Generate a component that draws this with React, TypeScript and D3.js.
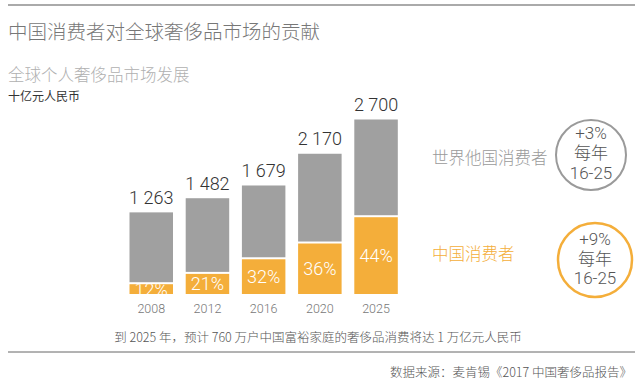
import React from "react";
import * as d3 from "d3";

const years = ["2008", "2012", "2016", "2020", "2025"];
const totals = [1263, 1482, 1679, 2170, 2700];
const totalLabels = ["1 263", "1 482", "1 679", "2 170", "2 700"];
const chinaShare = [12, 21, 32, 36, 44];
const circleOthers = ["+3%", "每年", "16-25"];
const circleChina = ["+9%", "每年", "16-25"];

const W = 640;
const H = 381;
const GRAY = "#a0a0a0";
const ORANGE = "#f4ae3a";
const CJK = "'Noto Sans CJK SC', 'Noto Sans', sans-serif";
const NUM = "Roboto, 'Liberation Sans', 'Noto Sans CJK SC', sans-serif";

export default function App() {
  const x = d3.scaleBand<string>().domain(years).range([129.5, 397.8]).paddingInner(0.226).paddingOuter(0);
  const y = d3.scaleLinear().domain([0, 2700]).range([294, 119.5]);
  const bw = x.bandwidth();

  return (
    <svg width={W} height={H} style={{ position: "absolute", left: 0, top: 0, background: "#fff" }}>
      <defs>
        {years.map((yr, i) => {
          const china = (totals[i] * chinaShare[i]) / 100;
          return (
            <clipPath id={`clip-${yr}`} key={yr}>
              <rect x={x(yr)} y={y(china)} width={bw} height={y(0) - y(china)} />
            </clipPath>
          );
        })}
      </defs>
      <line x1={8} x2={635} y1={5} y2={5} stroke="#aaa" strokeWidth={2} />
      <text x={8} y={39} fontFamily={CJK} fontSize={19.5} fill="#777" fontWeight={300}>
        中国消费者对全球奢侈品市场的贡献
      </text>
      <text x={8} y={81} fontFamily={CJK} fontSize={16.5} fill="#b0b0b0" fontWeight={300}>
        全球个人奢侈品市场发展
      </text>
      <text x={8} y={100.5} fontFamily={CJK} fontSize={12} fill="#333">
        十亿元人民币
      </text>

      {years.map((yr, i) => {
        const china = (totals[i] * chinaShare[i]) / 100;
        const x0 = x(yr) as number;
        const yTop = y(totals[i]);
        const yChina = y(china);
        const cx = x0 + bw / 2;
        return (
          <g key={yr}>
            <rect x={x0} y={yTop} width={bw} height={yChina - 2 - yTop} fill={GRAY} />
            <rect x={x0} y={yChina} width={bw} height={y(0) - yChina} fill={ORANGE} />
            <text
              x={cx}
              y={(yChina + y(0)) / 2 + 6.5}
              textAnchor="middle"
              fontFamily={NUM}
              fontWeight={300}
              fontSize={18}
              fill="#fff"
              clipPath={`url(#clip-${yr})`}
            >
              {chinaShare[i]}%
            </text>
            <text x={cx} y={yTop - 8.5} textAnchor="middle" fontFamily={NUM} fontWeight={300} fontSize={18} fill="#333">
              {totalLabels[i]}
            </text>
            <text x={cx} y={313} textAnchor="middle" fontFamily={NUM} fontWeight={300} fontSize={12.5} fill="#777">
              {yr}
            </text>
          </g>
        );
      })}

      <text x={432} y={164} fontFamily={CJK} fontSize={16.5} fill="#9a9a9a" fontWeight={300}>
        世界他国消费者
      </text>
      <text x={432} y={260} fontFamily={CJK} fontSize={16.5} fill={ORANGE} fontWeight={300}>
        中国消费者
      </text>

      <circle cx={591} cy={155} r={35} fill="none" stroke="#9a9a9a" strokeWidth={2} />
      {circleOthers.map((t, i) => (
        <text key={i} x={591} y={139 + i * 20} textAnchor="middle" fontFamily={NUM} fontWeight={300} fontSize={17} fill="#555">
          {t}
        </text>
      ))}
      <circle cx={595} cy={260} r={37} fill="none" stroke={ORANGE} strokeWidth={2.5} />
      {circleChina.map((t, i) => (
        <text key={i} x={595} y={245 + i * 19.5} textAnchor="middle" fontFamily={NUM} fontWeight={300} fontSize={17} fill="#555">
          {t}
        </text>
      ))}

      <text x={318} y={342} textAnchor="middle" fontFamily={CJK} fontSize={12.5} fill="#555" fontWeight={300}>
        到 2025 年，预计 760 万户中国富裕家庭的奢侈品消费将达 1 万亿元人民币
      </text>
      <line x1={8} x2={635} y1={352} y2={352} stroke="#666" strokeWidth={1} />
      <text x={632} y={377} textAnchor="end" fontFamily={CJK} fontSize={12.5} fill="#555" fontWeight={300}>
        数据来源：麦肯锡《2017 中国奢侈品报告》
      </text>
    </svg>
  );
}
